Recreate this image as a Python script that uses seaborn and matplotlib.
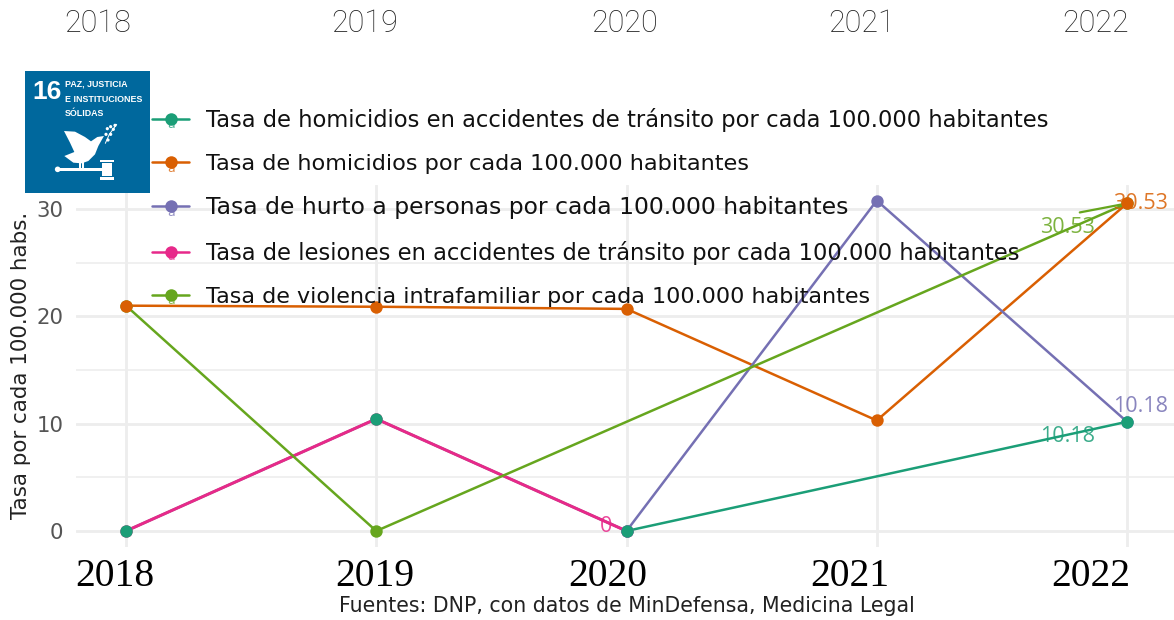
import numpy as np
import pandas as pd
import matplotlib
matplotlib.use("Agg")
import matplotlib.pyplot as plt
from matplotlib.lines import Line2D
from matplotlib.patches import Polygon, Rectangle, Circle
from matplotlib.transforms import Affine2D
import seaborn as sns

years = [2018, 2019, 2020, 2021, 2022]
series_names = [
    "Tasa de homicidios en accidentes de tránsito por cada 100.000 habitantes",
    "Tasa de homicidios por cada 100.000 habitantes",
    "Tasa de hurto a personas por cada 100.000 habitantes",
    "Tasa de lesiones en accidentes de tránsito por cada 100.000 habitantes",
    "Tasa de violencia intrafamiliar por cada 100.000 habitantes",
]
transito = [0, 10.45, 0, np.nan, 10.18]
homicidios = [21.0, 20.9, 20.7, 10.3, 30.53]
hurto = [np.nan, np.nan, 0, 30.8, 10.18]
lesiones = [0, 10.45, 0, np.nan, np.nan]
violencia = [21.0, 0, np.nan, np.nan, 30.53]
top_labels = ["2018", "2019", "2020", "2021", "2022"]
bottom_labels = ["2018", "2019", "2020", "2021", "2022"]
y_ticks = [0, 10, 20, 30]
y_minor = [5, 15, 25]

sns.set_theme(style="white")
plt.rcParams["font.family"] = ["DejaVu Sans"]
W, H = 1174, 620
fig = plt.figure(figsize=(W / 100, H / 100), dpi=100, facecolor="white")
ax = fig.add_axes([76 / W, 1 - 547 / H, (1174 - 76) / W, (547 - 185) / H])
px = Affine2D().scale(1, -1).translate(0, H)

palette = sns.color_palette("Dark2", 5)
colors = dict(zip(series_names, palette))
frames = []
for name, vals in zip(series_names, [transito, homicidios, hurto, lesiones, violencia]):
    frames.append(pd.DataFrame({"year": years, "value": vals, "serie": name}))
df = pd.concat(frames).dropna()

widths = [1.8, 1.8, 1.8, 2.2, 1.8]
for name, w in zip(series_names, widths):
    sns.lineplot(data=df[df.serie == name], x="year", y="value", color=colors[name],
                 lw=w, ax=ax, legend=False, zorder=3, errorbar=None)
for i, name in enumerate(reversed(series_names)):
    sns.scatterplot(data=df[df.serie == name], x="year", y="value", color=colors[name],
                    s=80, linewidth=0, ax=ax, legend=False, zorder=4 + i * 0.01)

ax.set_xlim(2018 - 50 / 250.25, 2022 + 47 / 250.25)
ax.set_ylim(-16 / 10.73, 346 / 10.73)
ax.set_xticks(years)
ax.set_xticklabels([])
ax.set_yticks(y_ticks)
ax.set_yticks(y_minor, minor=True)
ax.grid(True, which="major", color="#ededed", lw=2.0, zorder=0)
ax.grid(True, which="minor", axis="y", color="#ededed", lw=1.2, zorder=0)
ax.set_axisbelow(True)
ax.tick_params(axis="y", which="both", length=0, labelsize=15.3, labelcolor="#555555", pad=9)
ax.tick_params(axis="x", length=0)
for s in ax.spines.values():
    s.set_visible(False)
ax.set_xlabel("")
ax.set_ylabel("")

fig.text(21, 365, "Tasa por cada 100.000 habs.", transform=px, rotation=90, ha="center", va="center",
         fontsize=15.4, color="#222222")

# data labels
lab = dict(family="Open Sans", fontsize=15.5, ha="center", va="center", zorder=6, alpha=0.85)
ax.annotate("30.53", (2022, 30.53), xytext=(9.5, 0), textcoords="offset points", color=palette[1], **lab)
ax.annotate("30.53", (2022, 30.53), xytext=(-43, -17.5), textcoords="offset points", color=palette[4], **lab)
ax.annotate("10.18", (2022, 10.18), xytext=(10, 11), textcoords="offset points", color=palette[2], **lab)
ax.annotate("10.18", (2022, 10.18), xytext=(-43, -10.5), textcoords="offset points", color=palette[0], **lab)
ax.annotate("0", (2020, 0), xytext=(-15, 3.5), textcoords="offset points", color=palette[3], **lab)
ax.annotate("", xy=(2022, 30.53), xytext=(-34, -6.5), textcoords="offset points",
            arrowprops=dict(arrowstyle="-", color=palette[4], lw=1.6, shrinkA=0, shrinkB=0))

# legend
handles = [Line2D([], [], color=colors[n], lw=1.8, marker="o", ms=9, mew=0) for n in series_names]
leg = ax.legend(handles, series_names, loc="upper left", bbox_to_anchor=(152 / W, 1 - 108 / H),
                bbox_transform=fig.transFigure, frameon=False, fontsize=16.35, handlelength=1.63,
                handletextpad=0.75, labelspacing=0.97, borderpad=0, borderaxespad=0)
leg.set_zorder(7)
for t, fs in zip(leg.get_texts(), [16.28, 16.15, 16.9, 16.3, 16.03]):
    t.set_color("#111111")
    t.set_fontsize(fs)
for name, yy in zip(series_names, [125, 169, 213, 257, 301]):
    ax.text(171, yy, "a", transform=px, color=colors[name], fontsize=9, ha="center", va="center",
            alpha=0.75, zorder=6.5, clip_on=False)

# pasted year labels
for s, x in zip(top_labels, [98, 365, 625, 862, 1096]):
    fig.text(x, 23, s, transform=px, ha="center", va="center", fontsize=22, color="#222222",
             family="Roboto", fontweight="light")
for s, x in zip(bottom_labels, [115, 375, 608, 850, 1091]):
    fig.text(x, 577, s, transform=px, ha="center", va="center", fontsize=28.5, color="black",
             family="Liberation Serif")
fig.text(627, 606, "Fuentes: DNP, con datos de MinDefensa, Medicina Legal", transform=px, ha="center",
         va="center", fontsize=14.8, color="#222222")

# SDG 16 logo
blue = "#00689D"
logo = fig.add_axes([25 / W, 1 - 193 / H, 125 / W, 122 / H], zorder=5)
logo.set_xlim(0, 125)
logo.set_ylim(122, 0)
logo.axis("off")
logo.add_patch(Rectangle((0, 0), 125, 122, color=blue, lw=0))
def z(p):
    return [(a / 3 - 5, b / 3 - 5) for a, b in p]
logo.text(7, 21, "16", color="white", fontsize=19, fontweight="bold", family="Liberation Sans", ha="left", va="center")
for s, yy in zip(["PAZ, JUSTICIA", "E INSTITUCIONES", "SÓLIDAS"], [13, 28, 43]):
    logo.text(40, yy, s, color="white", fontsize=6.4, fontweight="bold", family="Liberation Sans", ha="left", va="center")
dove = [(132, 195), (165, 197), (195, 213), (213, 226), (232, 213), (252, 210), (245, 222), (235, 240),
        (225, 265), (205, 285), (185, 292), (160, 290), (133, 270), (163, 258), (150, 230)]
logo.add_patch(Polygon(z(dove), color="white", lw=0))
logo.add_patch(Polygon(z([(110, 305), (245, 305), (245, 316), (110, 316)]), color="white", lw=0))
logo.add_patch(Circle(z([(113, 310)])[0], 2.8, color="white", lw=0))
logo.add_patch(Polygon(z([(240, 281), (281, 281), (281, 288), (240, 288)]), color="white", lw=0))
logo.add_patch(Polygon(z([(246, 291), (275, 291), (275, 329), (246, 329)]), color="white", lw=0))
logo.add_patch(Polygon(z([(240, 333), (281, 333), (281, 341), (240, 341)]), color="white", lw=0))
logo.add_patch(Polygon(z([(178, 288), (183, 288), (183, 305), (178, 305)]), color="white", lw=0))
logo.add_patch(Polygon(z([(187, 288), (192, 288), (192, 305), (187, 305)]), color="white", lw=0))
logo.plot(*zip(*z([(256, 232), (268, 205), (290, 175)])), color="white", lw=0.7)
for p in [(262, 188), (272, 182), (280, 190), (285, 178), (258, 205), (272, 205), (264, 222)]:
    logo.add_patch(Circle(z([p])[0], 1.6, color="white", lw=0))

fig.savefig("out.png", dpi=100)
